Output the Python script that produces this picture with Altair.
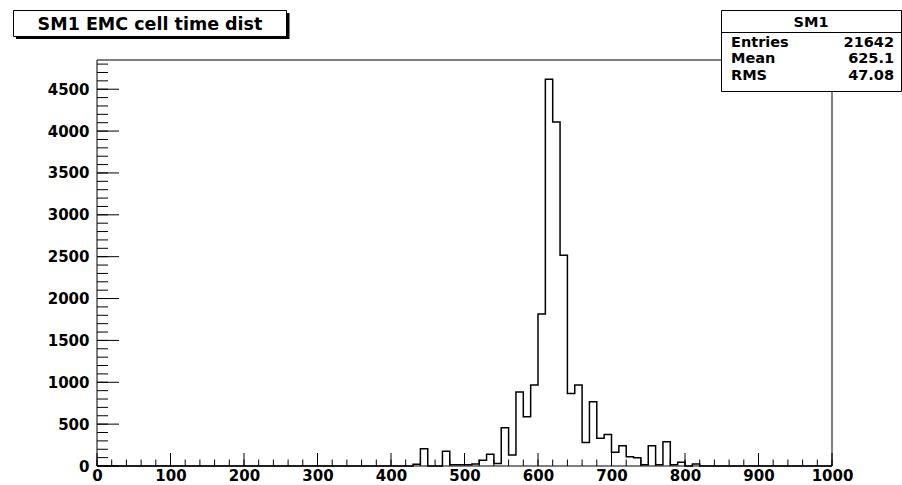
import altair as alt
import pandas as pd

# ---- data ----
bin_width = 10
x_min, x_max = 0, 1000
bin_low = [430, 440, 470, 480, 490, 500, 510, 520, 530, 540,
           550, 560, 570, 580, 590, 600, 610, 620, 630, 640,
           650, 660, 670, 680, 690, 700, 710, 720, 730, 740,
           750, 760, 770, 780, 790, 810]
counts = [20, 205, 175, 15, 15, 15, 25, 70, 140, 30,
          457, 130, 883, 589, 967, 1814, 4618, 4109, 2518, 867,
          967, 280, 767, 330, 375, 165, 243, 111, 99, 15,
          243, 15, 290, 15, 45, 25]
title_text = "SM1 EMC cell time dist"
stats_name = "SM1"
entries = "21642"
mean = "625.1"
rms = "47.08"
y_major = [0, 500, 1000, 1500, 2000, 2500, 3000, 3500, 4000, 4500]
y_minor = list(range(0, 4900, 100))
x_major = list(range(0, 1001, 100))
x_minor = list(range(0, 1001, 20))
y_top = 4849

# ---- build table ----
lookup = dict(zip(bin_low, counts))
edges = list(range(x_min, x_max, bin_width))
hist = pd.DataFrame({"x": edges + [x_max],
                     "c": [lookup.get(e, 0) for e in edges] + [0]})

W, H = 735, 406
FONT = "DejaVu Sans"
xs = alt.Scale(domain=[x_min, x_max], nice=False, zero=False)
ys = alt.Scale(domain=[0, y_top], nice=False)

x_axis = alt.Axis(values=x_major, ticks=False, domain=False, grid=False, title=None,
                  format="d",
                  labelFont=FONT, labelFontWeight="bold", labelFontSize=15,
                  labelColor="black", labelPadding=2, labelFlush=False,
                  labelOverlap=False)
y_axis = alt.Axis(values=y_major, ticks=False, domain=False, grid=False, title=None,
                  format="d",
                  labelFont=FONT, labelFontWeight="bold", labelFontSize=15,
                  labelColor="black", labelPadding=8, labelOverlap=False)

one = pd.DataFrame({"k": [0]})

line = alt.Chart(hist).mark_line(interpolate="step-after", color="black",
                                 strokeWidth=1.5).encode(
    x=alt.X("x:Q", scale=xs, axis=x_axis),
    y=alt.Y("c:Q", scale=ys, axis=y_axis),
    order="x:Q",
)

ymaj = alt.Chart(pd.DataFrame({"v": y_major})).mark_rule(color="black", strokeWidth=1).encode(
    y=alt.Y("v:Q", scale=ys, axis=y_axis), x=alt.value(0), x2=alt.value(22))
ymin = alt.Chart(pd.DataFrame({"v": y_minor})).mark_rule(color="black", strokeWidth=1).encode(
    y=alt.Y("v:Q", scale=ys, axis=y_axis), x=alt.value(0), x2=alt.value(11))
xmaj = alt.Chart(pd.DataFrame({"v": x_major})).mark_rule(color="black", strokeWidth=1).encode(
    x=alt.X("v:Q", scale=xs, axis=x_axis), y=alt.value(H), y2=alt.value(H - 13))
xmin = alt.Chart(pd.DataFrame({"v": x_minor})).mark_rule(color="black", strokeWidth=1).encode(
    x=alt.X("v:Q", scale=xs, axis=x_axis), y=alt.value(H), y2=alt.value(H - 6.5))

frame = alt.Chart(one).mark_rect(fill=None, stroke="black", strokeWidth=1).encode(
    x=alt.value(0), x2=alt.value(W), y=alt.value(0), y2=alt.value(H))

# title box with shadow
t_shadow = alt.Chart(one).mark_rect(fill="black").encode(
    x=alt.value(-81), x2=alt.value(192.5), y=alt.value(-47), y2=alt.value(-21))
t_box = alt.Chart(one).mark_rect(fill="white", stroke="black", strokeWidth=1).encode(
    x=alt.value(-83.5), x2=alt.value(189.5), y=alt.value(-49.5), y2=alt.value(-23.5))
t_text = alt.Chart(one).mark_text(font=FONT, fontWeight="bold", fontSize=17.5,
                                  align="center", baseline="alphabetic", color="black").encode(
    x=alt.value(53), y=alt.value(-30), text=alt.value(title_text))

# stats box
s_box = alt.Chart(one).mark_rect(fill="white", stroke="black", strokeWidth=1).encode(
    x=alt.value(624.5), x2=alt.value(804.5), y=alt.value(-49.5), y2=alt.value(31.5))
s_sep = alt.Chart(one).mark_rule(color="black", strokeWidth=1).encode(
    x=alt.value(624.5), x2=alt.value(804.5), y=alt.value(-27.5))

def stat_text(txt, xpos, ypos, align):
    return alt.Chart(one).mark_text(font=FONT, fontWeight="bold", fontSize=14.5,
                                    align=align, baseline="alphabetic", color="black").encode(
        x=alt.value(xpos), y=alt.value(ypos), text=alt.value(txt))

s_texts = [
    stat_text(stats_name, 714, -33, "center"),
    stat_text("Entries", 634, -13.5, "left"),
    stat_text(entries, 797, -13.5, "right"),
    stat_text("Mean", 634, 3.3, "left"),
    stat_text(mean, 797, 3.3, "right"),
    stat_text("RMS", 634, 20, "left"),
    stat_text(rms, 797, 20, "right"),
]

chart = alt.layer(line, ymin, ymaj, xmin, xmaj, frame, t_shadow, t_box, t_text,
                  s_box, s_sep, *s_texts).properties(
    width=W, height=H,
    autosize=alt.AutoSizeParams(type="none"),
    padding={"left": 97, "top": 60, "right": 70, "bottom": 19},
    background="white",
).configure_view(stroke=None)

chart.save("out.html", embed_options={"renderer": "svg", "actions": False})
